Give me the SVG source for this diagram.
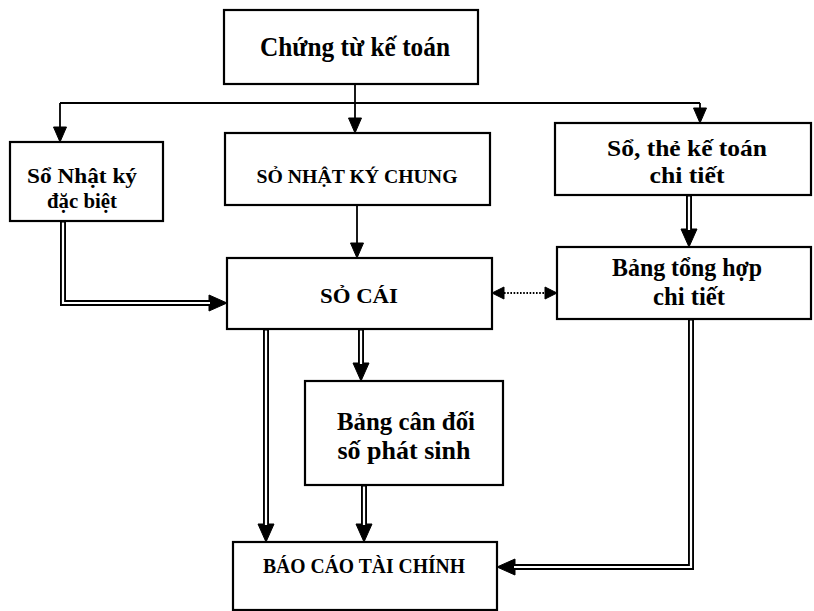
<svg xmlns="http://www.w3.org/2000/svg" width="814" height="611" viewBox="0 0 814 611">
<style>
  .box { fill: #ffffff; stroke: #000000; stroke-width: 2.2; }
  .t { font-family: "Liberation Serif", "Times New Roman", serif; font-weight: bold; fill: #000000; text-anchor: middle; }
  .single { fill: none; stroke: #000000; stroke-width: 1.8; }
  .dbl-o { fill: none; stroke: #000000; stroke-width: 6; stroke-linejoin: miter; }
  .dbl-i { fill: none; stroke: #ffffff; stroke-width: 2.2; stroke-linejoin: miter; }
  .dot { fill: none; stroke: #000000; stroke-width: 1.8; stroke-dasharray: 1.6 1.6; }
  .head { fill: #000000; stroke: #000000; stroke-width: 1; stroke-linejoin: miter; }
</style>
<defs>
  <marker id="ah" viewBox="0 0 15 13" markerWidth="15" markerHeight="13" refX="0" refY="6.5" markerUnits="userSpaceOnUse" orient="auto" overflow="visible">
    <path class="head" d="M0,0 L15,6.5 L0,13 z"/>
  </marker>
  <marker id="ahd" viewBox="0 0 18 16" markerWidth="18" markerHeight="16" refX="0" refY="8" markerUnits="userSpaceOnUse" orient="auto" overflow="visible">
    <path class="head" d="M0,0 L18,8 L0,16 z"/>
  </marker>
  <marker id="ahs" viewBox="0 0 12 12" markerWidth="12" markerHeight="12" refX="0" refY="6" markerUnits="userSpaceOnUse" orient="auto-start-reverse" overflow="visible">
    <path class="head" d="M0,0 L12,6 L0,12 z"/>
  </marker>
</defs>
<rect x="0" y="0" width="814" height="611" fill="#ffffff"/>

<g id="connectors">
  <!-- top distribution -->
  <path class="single" d="M355,84 V103"/>
  <path class="single" d="M60,103 H700"/>
  <path class="single" d="M60,103 V127" marker-end="url(#ah)"/>
  <path class="single" d="M355,103 V118" marker-end="url(#ah)"/>
  <path class="single" d="M700,103 V108" marker-end="url(#ah)"/>
  <!-- SNKC -> So cai -->
  <path class="single" d="M357,205 V243" marker-end="url(#ah)"/>
  <!-- Nhat ky dac biet -> So cai -->
  <path class="dbl-o" d="M63,221 V303 H209" marker-end="url(#ahd)"/>
  <path class="dbl-i" d="M63,222.5 V303 H210"/>
  <!-- So cai <-> Bang tong hop -->
  <path class="dot" d="M504,293 H545" marker-start="url(#ahs)" marker-end="url(#ahs)"/>
  <!-- So the -> Bang tong hop -->
  <path class="dbl-o" d="M689,195 V229" marker-end="url(#ahd)"/>
  <path class="dbl-i" d="M689,196.5 V230"/>
  <!-- So cai -> Bao cao -->
  <path class="dbl-o" d="M266,329 V524" marker-end="url(#ahd)"/>
  <path class="dbl-i" d="M266,330.5 V525"/>
  <!-- So cai -> Bang can doi -->
  <path class="dbl-o" d="M361,329 V363" marker-end="url(#ahd)"/>
  <path class="dbl-i" d="M361,330.5 V364"/>
  <!-- Bang can doi -> Bao cao -->
  <path class="dbl-o" d="M364,485 V524" marker-end="url(#ahd)"/>
  <path class="dbl-i" d="M364,486.5 V525"/>
  <!-- Bang tong hop -> Bao cao -->
  <path class="dbl-o" d="M691,319 V567 H515" marker-end="url(#ahd)"/>
  <path class="dbl-i" d="M691,320.5 V567 H514"/>
</g>

<g id="chung-tu">
  <rect class="box" x="224" y="10" width="254" height="74"/>
  <text class="t" x="355" y="56" font-size="27" textLength="190" lengthAdjust="spacingAndGlyphs">Chứng từ kế toán</text>
</g>

<g id="nhat-ky-dac-biet">
  <rect class="box" x="10" y="142" width="153" height="79"/>
  <text class="t" x="82" y="183" font-size="22" textLength="110" lengthAdjust="spacingAndGlyphs">Sổ Nhật ký</text>
  <text class="t" x="82" y="208" font-size="22" textLength="70" lengthAdjust="spacingAndGlyphs">đặc biệt</text>
</g>

<g id="nhat-ky-chung">
  <rect class="box" x="225" y="133" width="265" height="72"/>
  <text class="t" x="357" y="183" font-size="19" textLength="201" lengthAdjust="spacingAndGlyphs">SỎ NHẬT KÝ CHUNG</text>
</g>

<g id="so-the-chi-tiet">
  <rect class="box" x="555" y="123" width="256" height="72"/>
  <text class="t" x="687" y="156" font-size="23" textLength="160" lengthAdjust="spacingAndGlyphs">Sổ, thẻ kế toán</text>
  <text class="t" x="687" y="183" font-size="23" textLength="75" lengthAdjust="spacingAndGlyphs">chi tiết</text>
</g>

<g id="so-cai">
  <rect class="box" x="227" y="258" width="265" height="71"/>
  <text class="t" x="359" y="303" font-size="21" textLength="78" lengthAdjust="spacingAndGlyphs">SỎ CÁI</text>
</g>

<g id="bang-tong-hop">
  <rect class="box" x="557" y="247" width="254" height="72"/>
  <text class="t" x="687" y="276" font-size="25" textLength="150" lengthAdjust="spacingAndGlyphs">Bảng tổng hợp</text>
  <text class="t" x="689" y="305" font-size="25" textLength="72" lengthAdjust="spacingAndGlyphs">chi tiết</text>
</g>

<g id="bang-can-doi">
  <rect class="box" x="305" y="381" width="198" height="104"/>
  <text class="t" x="406" y="430" font-size="25" textLength="138" lengthAdjust="spacingAndGlyphs">Bảng cân đối</text>
  <text class="t" x="404" y="459" font-size="25" textLength="133" lengthAdjust="spacingAndGlyphs">số phát sinh</text>
</g>

<g id="bao-cao">
  <rect class="box" x="233" y="542" width="264" height="68"/>
  <text class="t" x="364" y="573" font-size="20" textLength="202" lengthAdjust="spacingAndGlyphs">BÁO CÁO TÀI CHÍNH</text>
</g>
</svg>
